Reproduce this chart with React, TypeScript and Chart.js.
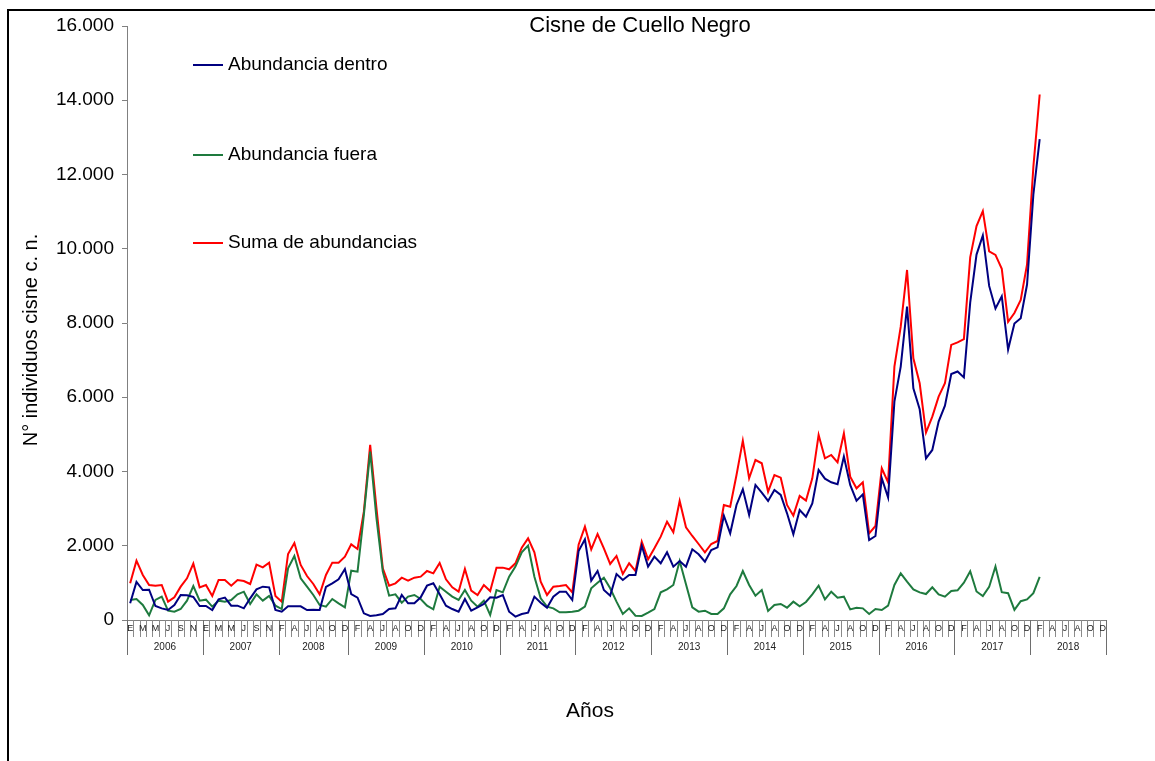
import React, { useEffect, useRef } from "react";
import { Chart, registerables } from "chart.js";

Chart.register(...registerables);

const FONT = "'Liberation Sans', Arial, sans-serif";

// Month initials (Spanish) and years shown on the axis
const MONTH_LETTERS = ["E", "F", "M", "A", "M", "J", "J", "A", "S", "O", "N", "D"];
const YEARS = [2006, 2007, 2008, 2009, 2010, 2011, 2012, 2013, 2014, 2015, 2016, 2017, 2018];
// months absent from the series (year, month index)
const MISSING_MONTHS: [number, number][] = [[2008, 0]];

const TITLE = "Cisne de Cuello Negro";
const Y_TITLE = "N° individuos cisne c. n.";
const X_TITLE = "Años";
const SERIES_NAMES = ["Abundancia dentro", "Abundancia fuera", "Suma de abundancias"];
const SERIES_COLORS = ["#000080", "#1E7A3E", "#FF0000"];

const Y_TICKS = [0, 2000, 4000, 6000, 8000, 10000, 12000, 14000, 16000];

const dentro = [
  449, 1024, 808, 817, 377, 314, 269, 404, 674, 665, 620, 377,
  377, 269, 557, 602, 386, 386, 314, 584, 826, 898, 880, 269,
  224, 368, 368, 368, 269, 278, 269, 889, 988, 1096, 1374,
  700, 602, 180, 108, 126, 162, 296, 314, 674, 449, 449, 611,
  925, 988, 691, 386, 296, 224, 566, 251, 341, 431, 611, 602,
  674, 224, 90, 162, 198, 629, 467, 332, 629, 763, 763, 539,
  1860, 2173, 1060, 1320, 808, 656, 1239, 1078, 1212, 1212, 2003, 1437,
  1706, 1527, 1823, 1437, 1589, 1437, 1904, 1769, 1572, 1886, 1958, 2811,
  2335, 3098, 3520, 2829, 3637, 3430, 3206, 3502, 3368, 2874, 2308, 2963,
  2784, 3143, 4041, 3808, 3709, 3655, 4400, 3637, 3215, 3385, 2155, 2263,
  3817, 3296, 5882, 6825, 8441, 6241, 5675, 4355, 4580, 5343, 5774, 6627,
  6693, 6534, 8549, 9843, 10358, 8999, 8390, 8718, 7284, 7987, 8127, 9036,
  11455, 12955,
];

const fuera = [
  539, 566, 404, 126, 539, 629, 251, 224, 296, 521, 916, 521,
  548, 359, 521, 494, 539, 691, 763, 431, 691, 521, 647, 386,
  296, 1392, 1724, 1122, 898, 674, 404, 359, 566, 449, 341,
  1329, 1302, 2829, 4535, 2739, 1302, 656, 691, 467, 629, 674, 566,
  386, 287, 898, 763, 629, 539, 808, 521, 359, 521, 135, 808,
  745, 1167, 1437, 1823, 2003, 1167, 584, 359, 314, 206, 206, 224,
  251, 359, 853, 1006, 1140, 853, 494, 162, 314, 117, 108, 198,
  296, 745, 826, 943, 1589, 961, 341, 224, 251, 162, 162, 314,
  691, 916, 1320, 943, 656, 808, 242, 404, 431, 332, 494, 370,
  485, 691, 925, 557, 763, 602, 629, 287, 332, 314, 162, 296,
  269, 386, 943, 1257, 1033, 826, 745, 700, 880, 691, 629, 781,
  800, 1003, 1312, 769, 647, 891, 1444, 750, 722, 272, 506, 553,
  722, 1162,
];

const suma = [
  988, 1598, 1212, 943, 925, 943, 494, 611, 898, 1122, 1518, 880,
  943, 647, 1078, 1078, 925, 1078, 1051, 970, 1491, 1419, 1545, 647,
  494, 1778, 2074, 1482, 1185, 970, 691, 1212, 1545, 1545, 1706,
  2038, 1913, 2918, 4715, 3008, 1392, 925, 988, 1140, 1060, 1140, 1167,
  1320, 1257, 1536, 1096, 880, 763, 1374, 790, 674, 943, 781, 1410,
  1410, 1365, 1527, 1949, 2200, 1823, 1033, 674, 898, 916, 943, 745,
  2030, 2514, 1904, 2317, 1931, 1509, 1724, 1239, 1527, 1320, 2110, 1634,
  1931, 2245, 2649, 2362, 3206, 2496, 2263, 2047, 1823, 2047, 2128, 3098,
  3053, 3906, 4831, 3817, 4310, 4221, 3457, 3906, 3834, 3098, 2811, 3341,
  3215, 3817, 4984, 4355, 4445, 4248, 5029, 3861, 3547, 3709, 2335, 2532,
  4086, 3709, 6825, 7902, 9429, 7050, 6376, 5047, 5478, 6017, 6376, 7409,
  7480, 7565, 9768, 10611, 11014, 9927, 9833, 9458, 8033, 8268, 8624, 9580,
  12205, 14155,
];

type Cat = { letter: string; year: number };
const categories: Cat[] = [];
YEARS.forEach((yr) => {
  MONTH_LETTERS.forEach((l, m) => {
    if (MISSING_MONTHS.some(([y, mm]) => y === yr && mm === m)) return;
    categories.push({ letter: l, year: yr });
  });
});

const fmt = (v: number) => String(v).replace(/\B(?=(\d{3})+(?!\d))/g, ".");

const decorPlugin = {
  id: "decor",
  afterDraw(chart: any) {
    const ctx: CanvasRenderingContext2D = chart.ctx;
    const xs = chart.scales.x;
    const area = chart.chartArea;
    ctx.save();

    // outer chart border (top & left)
    ctx.fillStyle = "#000";
    ctx.fillRect(7, 9, 1155, 2);
    ctx.fillRect(7, 9, 2, 761);

    // title
    ctx.fillStyle = "#000";
    ctx.textAlign = "center";
    ctx.textBaseline = "middle";
    ctx.font = `22px ${FONT}`;
    ctx.fillText(TITLE, 640, 26);

    // legend
    const legendY = [65, 155, 243];
    ctx.font = `19px ${FONT}`;
    ctx.textAlign = "left";
    SERIES_NAMES.forEach((name, i) => {
      ctx.strokeStyle = SERIES_COLORS[i];
      ctx.lineWidth = 2;
      ctx.beginPath();
      ctx.moveTo(193, legendY[i]);
      ctx.lineTo(223, legendY[i]);
      ctx.stroke();
      ctx.fillStyle = "#000";
      ctx.fillText(name, 228, legendY[i]);
    });

    // y title
    ctx.save();
    ctx.translate(31, 340);
    ctx.rotate(-Math.PI / 2);
    ctx.textAlign = "center";
    ctx.textBaseline = "middle";
    ctx.font = `20px ${FONT}`;
    ctx.fillText(Y_TITLE, 0, 0);
    ctx.restore();

    // x title
    ctx.textAlign = "center";
    ctx.textBaseline = "middle";
    ctx.font = `21px ${FONT}`;
    ctx.fillText(X_TITLE, 590, 711);

    // x axis: month tick marks, letters, year separators and labels
    const n = categories.length;
    const step = xs.getPixelForValue(1) - xs.getPixelForValue(0);
    const y0 = area.bottom;
    let yearStartX = xs.getPixelForValue(0) - step / 2;
    for (let i = 0; i <= n; i++) {
      const bx = i < n ? xs.getPixelForValue(i) - step / 2 : xs.getPixelForValue(n - 1) + step / 2;
      const isYear = i === 0 || i === n || categories[i].year !== categories[i - 1].year;
      ctx.strokeStyle = isYear ? "#6e6e6e" : "#8a8a8a";
      ctx.lineWidth = 1;
      ctx.beginPath();
      const px = Math.round(bx) + 0.5;
      ctx.moveTo(px, y0);
      ctx.lineTo(px, isYear ? y0 + 35 : y0 + 17);
      ctx.stroke();
      if (isYear && i > 0) {
        ctx.fillStyle = "#222";
        ctx.font = `10px ${FONT}`;
        ctx.textAlign = "center";
        ctx.textBaseline = "middle";
        ctx.fillText(String(categories[i - 1].year), (yearStartX + bx) / 2, y0 + 27);
        yearStartX = bx;
      }
    }
    ctx.fillStyle = "#222";
    ctx.font = `9px ${FONT}`;
    ctx.textAlign = "center";
    ctx.textBaseline = "middle";
    for (let i = 0; i < n; i += 2) {
      ctx.fillText(categories[i].letter, xs.getPixelForValue(i), y0 + 9);
    }
    ctx.restore();
  },
};

export default function App() {
  const ref = useRef<HTMLCanvasElement | null>(null);
  useEffect(() => {
    if (!ref.current) return;
    const labels = categories.map((c) => `${c.letter} ${c.year}`);
    const chart = new Chart(ref.current, {
      type: "line",
      data: {
        labels,
        datasets: [
          { label: SERIES_NAMES[0], data: dentro, borderColor: SERIES_COLORS[0] },
          { label: SERIES_NAMES[1], data: fuera, borderColor: SERIES_COLORS[1] },
          { label: SERIES_NAMES[2], data: suma, borderColor: SERIES_COLORS[2] },
        ],
      },
      options: {
        animation: false,
        responsive: false,
        maintainAspectRatio: false,
        layout: { padding: { left: 0, right: 49, top: 26, bottom: 0 } },
        plugins: {
          legend: { display: false },
          title: { display: false },
          tooltip: { enabled: false },
        },
        elements: {
          point: { radius: 0 },
          line: { borderWidth: 2, tension: 0, fill: false },
        },
        scales: {
          x: {
            type: "category",
            offset: true,
            grid: { display: false },
            ticks: { display: false },
            border: { display: true, color: "#808080", width: 1 },
            afterFit: (s: any) => {
              s.height = 141;
            },
          },
          y: {
            min: 0,
            max: 16000,
            afterBuildTicks: (s: any) => {
              s.ticks = Y_TICKS.map((v) => ({ value: v }));
            },
            ticks: {
              callback: (v: any) => fmt(Number(v)),
              font: { size: 19, family: FONT },
              color: "#000",
              padding: 8,
            },
            grid: { drawOnChartArea: false, drawTicks: true, tickLength: 5, color: "#808080" },
            border: { display: true, color: "#808080", width: 1 },
            afterFit: (s: any) => {
              s.width = 127;
            },
          },
        },
      } as any,
      plugins: [decorPlugin],
    });
    return () => chart.destroy();
  }, []);
  return (
    <div style={{ position: "absolute", left: 0, top: 0, width: 1155, height: 761, background: "#fff" }}>
      <canvas ref={ref} width={1155} height={761} style={{ width: 1155, height: 761, display: "block" }} />
    </div>
  );
}
